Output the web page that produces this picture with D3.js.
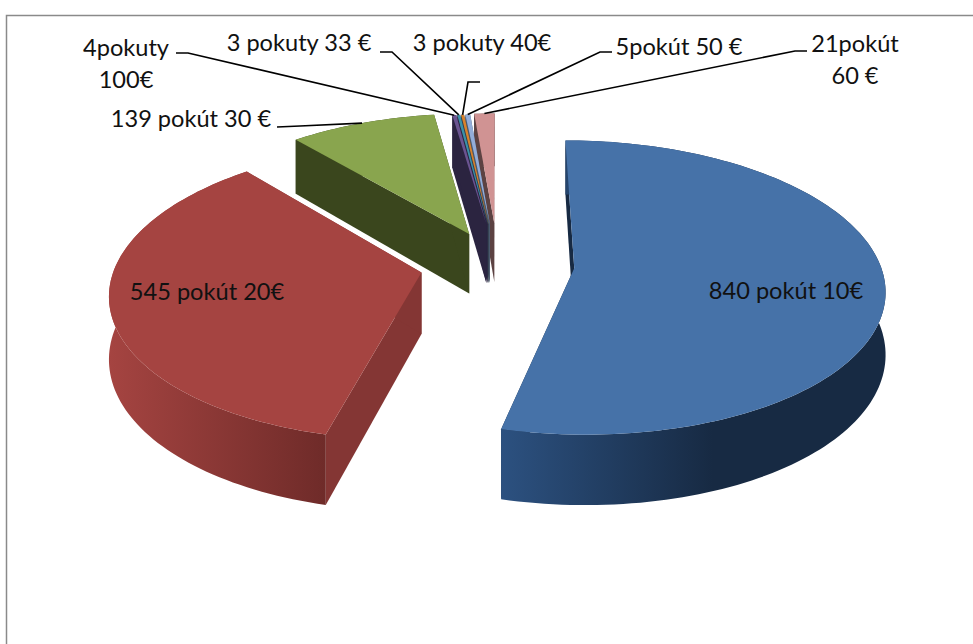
<!DOCTYPE html>
<html><head><meta charset="utf-8">
<script src="https://cdn.jsdelivr.net/npm/d3@7"></script>
<style>html,body{margin:0;padding:0;background:#fff}svg{display:block}text{font-family:Lato,"Open Sans",sans-serif;font-size:23.6px;fill:#111}</style>
</head><body><div id="c"></div>
<script>
const counts = [840, 545, 139, 4, 3, 3, 5, 21];
const labelLines = [["840 pokút 10€"],["545 pokút 20€"],["139 pokút 30 €"],["4pokuty","100€"],["3 pokuty 33 €"],["3 pokuty 40€"],["5pokút 50 €"],["21pokút","60 €"]];
// styling / layout
const topColors = ["#4672a8","#a54441","#89a54e","#6b5491","#3a92a8","#d9822b","#93add9","#d09393"];
const wallColors = ["#172a43","#843634","#3a461d","#2b2440","#2b2440","#33404f","#4c5a6e","#5c4242"];
const sideLight = ["#2c5180","#a54441","#3a461d","#2b2440","#2b2440","#33404f","#4c5a6e","#5c4242"];
const sideDark = ["#172a43","#6f2b29","#3a461d","#2b2440","#2b2440","#33404f","#4c5a6e","#5c4242"];
const explode = [.25,.255,.235,.29,.29,.29,.29,.295];
const radiusK = [1,1,1,.92,.92,.92,.92,.92];
const labelPos = [[786,299,"middle"],[207,300,"middle"],[191,127,"middle"],[126,56,"middle"],[299,51,"middle"],[482,51,"middle"],[679,55,"middle"],[855,52,"middle"]];
const leaders = [null,null,[[277,127],[300,126]],[[176,53],[188,53]],[[380,52],[392,52]],[[480,82],[468,82]],[[612,52],[600,52]],[[807,51],[795,51]]];
const W=973,H=644,Cx=498,Cy=264,Rx=306,Ry=143.5,K=.13,Depth=61;

const svg=d3.select("#c").append("svg").attr("width",W).attr("height",H);
svg.append("path").attr("d",`M6.5 ${H}V15.5H${W}`).attr("fill","none").attr("stroke","#8a8a8a").attr("stroke-width",1.5);
const arcs=d3.pie().sort(null)(counts);
const xS=d3.scaleLinear().domain([0,1]).range([Cx,Cx+Rx]);
function proj(u,v,z){const s=1/(1+K*v);return [xS(u*s),Cy-Ry*v*s+z*Depth*s];}
function slicePoint(i,a,r,z){
  const m=(arcs[i].startAngle+arcs[i].endAngle)/2,e=explode[i],rk=radiusK[i]*r;
  return proj(Math.sin(a)*rk+Math.sin(m)*e,Math.cos(a)*rk+Math.cos(m)*e,z);
}
const line=d3.line();
const defs=svg.append("defs");
const g=svg.append("g");
const order=[7,6,5,4,3,2,1,0];
order.forEach(i=>{
  const d=arcs[i];
  const n=Math.max(2,Math.ceil((d.endAngle-d.startAngle)*40));
  const as=d3.range(n+1).map(k=>d.startAngle+(d.endAngle-d.startAngle)*k/n);
  const rim=z=>as.map(a=>slicePoint(i,a,1,z));
  const ap=z=>slicePoint(i,0,0,z);
  const gid="side"+i,xs=rim(0).map(p=>p[0]);
  const gr=defs.append("linearGradient").attr("id",gid).attr("gradientUnits","userSpaceOnUse")
    .attr("x1",d3.min(xs)).attr("x2",d3.max(xs)).attr("y1",0).attr("y2",0);
  if(i==1){gr.append("stop").attr("offset",0).attr("stop-color",sideLight[i]);gr.append("stop").attr("offset",1).attr("stop-color",sideDark[i]);}
  else{gr.append("stop").attr("offset",0).attr("stop-color",sideLight[i]);gr.append("stop").attr("offset",.55).attr("stop-color",sideDark[i]);gr.append("stop").attr("offset",1).attr("stop-color",sideDark[i]);}
  const wall=(pts,f)=>g.append("path").attr("d",line(pts)+"Z").attr("fill",f);
  const s0=as[0],s1=as[n];
  wall([slicePoint(i,s0,1,0),ap(0),ap(1),slicePoint(i,s0,1,1)],wallColors[i]);
  wall([slicePoint(i,s1,1,0),ap(0),ap(1),slicePoint(i,s1,1,1)],wallColors[i]);
  wall(rim(0).concat(rim(1).reverse()),`url(#${gid})`);
  wall(rim(0).concat([ap(0)]),topColors[i]);
});
// leaders
leaders.forEach((l,i)=>{
  if(!l)return;
  const d=arcs[i],m=(d.startAngle+d.endAngle)/2;
  const end=slicePoint(i,m,1,0);
  g.append("path").attr("d",line(l.concat([end]))).attr("fill","none").attr("stroke","#000").attr("stroke-width",1.6);
});
labelLines.forEach((ls,i)=>{
  const t=svg.append("text").attr("text-anchor",labelPos[i][2]);
  ls.forEach((s,k)=>t.append("tspan").attr("x",labelPos[i][0]).attr("y",labelPos[i][1]+k*32).text(s));
});
</script></body></html>
